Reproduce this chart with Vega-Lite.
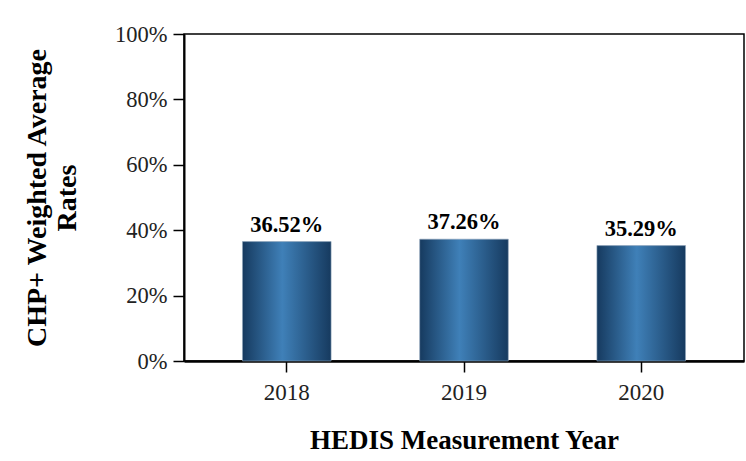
{
  "$schema": "https://vega.github.io/schema/vega-lite/v6.json",
  "autosize": {"type": "none"},
  "padding": {"left": 184, "top": 34, "right": 2, "bottom": 100},
  "width": 560,
  "height": 327,
  "background": "white",
  "config": {
    "view": {"stroke": "black", "strokeWidth": 1.5},
    "font": "Liberation Serif"
  },
  "data": {
    "values": [
      {"year": "2018", "rate": 0.3652},
      {"year": "2019", "rate": 0.3726},
      {"year": "2020", "rate": 0.3529}
    ]
  },
  "encoding": {
    "x": {
      "field": "year", "type": "nominal",
      "scale": {"paddingInner": 0.5, "paddingOuter": 0.33},
      "axis": {
        "title": "HEDIS Measurement Year",
        "titleFont": "Liberation Serif", "titleFontSize": 27, "titleFontWeight": "bold", "titleColor": "black",
        "titlePadding": 23,
        "labelAngle": 0, "labelFont": "Liberation Serif", "labelFontSize": 23, "labelColor": "#222",
        "labelPadding": 9,
        "tickSize": 11, "tickColor": "black", "tickWidth": 1.5,
        "domainColor": "black", "domainWidth": 2.5
      }
    },
    "y": {
      "field": "rate", "type": "quantitative",
      "scale": {"domain": [0, 1], "nice": false},
      "axis": {
        "title": ["CHP+ Weighted Average", "Rates"],
        "titleFont": "Liberation Serif", "titleFontSize": 28, "titleFontWeight": "bold", "titleColor": "black",
        "titlePadding": 33,
        "values": [0, 0.2, 0.4, 0.6, 0.8, 1],
        "format": ".0%",
        "grid": false,
        "labelFont": "Liberation Serif", "labelFontSize": 22.5, "labelColor": "#222",
        "labelPadding": 6,
        "tickSize": 11, "tickColor": "black", "tickWidth": 1.5,
        "domainColor": "black", "domainWidth": 2
      }
    }
  },
  "layer": [
    {
      "mark": {
        "type": "bar",
        "stroke": "#8fa5ba",
        "strokeWidth": 0.6,
        "fill": {
          "gradient": "linear", "x1": 0, "y1": 0, "x2": 1, "y2": 0,
          "stops": [
            {"offset": 0, "color": "#163a5f"},
            {"offset": 0.45, "color": "#3f80b8"},
            {"offset": 1, "color": "#163a5f"}
          ]
        }
      }
    },
    {
      "mark": {"type": "text", "baseline": "alphabetic", "dy": -10, "font": "Liberation Serif", "fontSize": 22.5, "fontWeight": "bold", "color": "black"},
      "encoding": {
        "text": {"field": "rate", "type": "quantitative", "format": ".2%"}
      }
    }
  ]
}
